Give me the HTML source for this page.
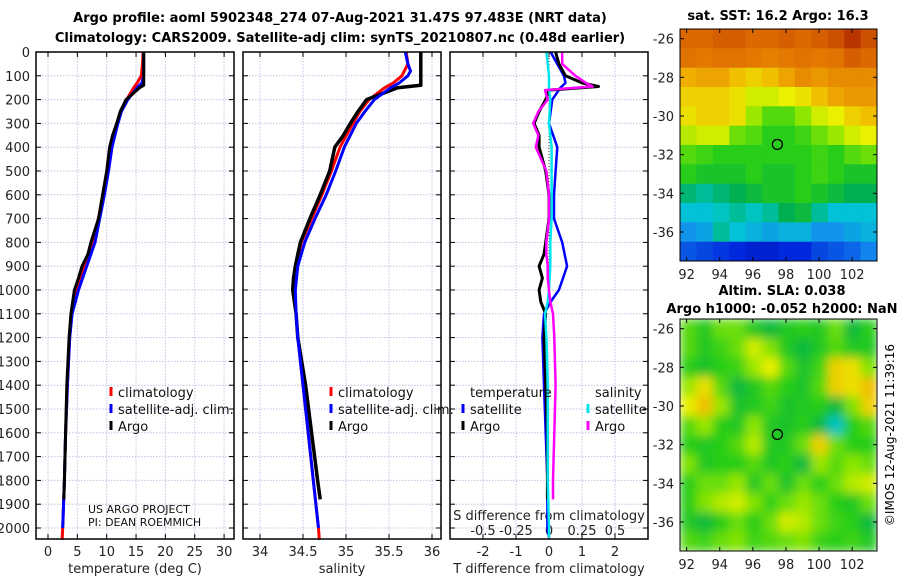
<!DOCTYPE html>
<html><head><meta charset="utf-8">
<style>
html,body{margin:0;padding:0;background:#fff;}
svg{display:block;font-family:"DejaVu Sans","Liberation Sans",sans-serif;}
</style></head>
<body>
<svg id="fig" width="900" height="580" viewBox="0 0 900 580">
<defs><filter id="blur" x="0" y="0" width="1" height="1"><feGaussianBlur stdDeviation="5"/></filter>
<clipPath id="clipsla"><rect x="680" y="319" width="197" height="232"/></clipPath>
<clipPath id="clipsst"><rect x="680" y="29" width="197" height="232"/></clipPath></defs>
<text x="340" y="22" text-anchor="middle" font-weight="bold" font-size="13">Argo profile: aoml 5902348_274 07-Aug-2021 31.47S 97.483E (NRT data)</text>
<text x="340" y="42" text-anchor="middle" font-weight="bold" font-size="13">Climatology: CARS2009. Satellite-adj clim: synTS_20210807.nc (0.48d earlier)</text>
<text x="778" y="20" text-anchor="middle" font-weight="bold" font-size="13">sat. SST: 16.2 Argo: 16.3</text>
<text x="782" y="295" text-anchor="middle" font-weight="bold" font-size="13">Altim. SLA: 0.038</text>
<text x="782" y="313" text-anchor="middle" font-weight="bold" font-size="13">Argo h1000: -0.052 h2000: NaN</text>
<text transform="translate(894,435) rotate(-90)" text-anchor="middle" font-size="12">©IMOS 12-Aug-2021 11:39:16</text>
<g id="g"></g>
</svg>
<script>
// ---------- data ----------
const depthTicks=[0,100,200,300,400,500,600,700,800,900,1000,1100,1200,1300,1400,1500,1600,1700,1800,1900,2000];
const tempTicks=[0,5,10,15,20,25,30];
const salTicks=[34,34.5,35,35.5,36];
const salTickLabels=["34","34.5","35","35.5","36"];
const tdiffTicks=[-2,-1,0,1,2];
const sdiffTicks=[-0.5,-0.25,0,0.25,0.5];
const sdiffTickLabels=["-0.5","-0.25","0","0.25","0.5"];

const argoDepth=[0,140,150,200,250,300,350,400,500,600,700,800,850,900,950,1000,1100,1200,1400,1600,1800,1880];
const argoTemp=[16.3,16.3,15.6,13.3,12.3,11.7,11.0,10.5,10.0,9.3,8.6,7.3,6.8,5.8,5.2,4.5,3.9,3.6,3.2,3.0,2.8,2.7];
const argoSal=[35.87,35.87,35.6,35.24,35.14,35.05,34.97,34.87,34.81,34.70,34.58,34.47,34.44,34.41,34.39,34.38,34.42,34.44,34.53,34.60,34.67,34.70];

const climDepth=[0,50,100,130,150,200,250,300,400,500,600,700,800,900,1000,1100,1200,1400,1600,1800,2000,2050];
const climTemp=[16.2,16.1,15.9,15.2,14.6,13.4,12.4,11.8,10.7,10.1,9.4,8.6,7.6,6.2,4.9,4.0,3.7,3.3,3.0,2.8,2.5,2.4];
const climSal=[35.70,35.72,35.65,35.55,35.45,35.27,35.16,35.08,34.93,34.83,34.72,34.60,34.48,34.42,34.40,34.42,34.44,34.50,34.56,34.62,34.68,34.69];
const satDepth=[0,50,80,100,130,150,200,250,300,400,500,600,700,800,900,1000,1100,1200,1400,1600,1800,2000];
const satTemp=[16.3,16.3,16.3,16.3,16.0,15.2,13.6,12.5,11.9,10.9,10.3,9.6,8.8,8.0,6.6,5.2,4.1,3.7,3.3,3.0,2.8,2.5];
const satSal=[35.69,35.72,35.75,35.72,35.62,35.52,35.33,35.22,35.12,34.98,34.88,34.77,34.64,34.52,34.44,34.41,34.42,34.44,34.50,34.56,34.62,34.68];

const dArgoDepth=[0,50,100,130,145,160,200,250,300,350,400,500,600,700,800,850,900,950,1000,1050,1100,1200,1400,1600,1800,1880];
const dArgoT=[0.2,0.3,0.5,1.0,1.5,0.0,-0.1,-0.3,-0.45,-0.3,-0.3,-0.1,0.0,0.0,-0.1,-0.15,-0.3,-0.2,-0.3,-0.25,-0.1,-0.15,-0.1,-0.05,-0.05,-0.05];
const dArgoS=[0.1,0.1,0.2,0.28,0.33,-0.03,-0.01,-0.08,-0.12,-0.08,-0.1,-0.02,0.0,0.0,-0.02,-0.02,-0.01,-0.01,0.0,0.01,0.03,0.04,0.05,0.04,0.03,0.03];
const dSatDepth=[0,100,130,150,200,300,400,500,600,700,800,900,1000,1050,1100,1200,1400,1600,1800,2000,2040];
const dSatT=[0.05,0.45,0.5,0.35,0.1,0.0,0.25,0.2,0.15,0.15,0.4,0.55,0.3,0.05,-0.15,-0.2,-0.15,-0.1,-0.05,-0.05,0.0];
const dSatS=[-0.02,0.0,0.0,0.0,0.01,0.0,0.02,0.02,0.02,0.02,0.01,0.01,0.0,-0.01,-0.03,-0.02,-0.01,-0.01,-0.01,0.0,0.0];

const lonTicks=[92,94,96,98,100,102];
const latTicks=[-26,-28,-30,-32,-34,-36];
const argoLon=97.483, argoLat=-31.47;
const sstGrid=[
[.82,.82,.84,.84,.82,.82,.84,.82,.84,.87,.92,.87],
[.8,.79,.8,.8,.79,.78,.79,.8,.79,.8,.84,.82],
[.7,.72,.72,.68,.66,.68,.72,.76,.74,.76,.76,.76],
[.66,.66,.66,.64,.6,.6,.62,.64,.68,.72,.74,.74],
[.64,.66,.66,.64,.56,.5,.5,.55,.6,.62,.66,.68],
[.58,.6,.6,.52,.5,.46,.46,.48,.52,.56,.6,.62],
[.5,.48,.46,.46,.46,.46,.46,.46,.48,.46,.5,.52],
[.46,.44,.44,.44,.46,.44,.44,.46,.48,.46,.44,.44],
[.38,.36,.38,.4,.42,.44,.44,.46,.44,.42,.4,.4],
[.32,.32,.34,.36,.34,.36,.4,.42,.36,.32,.32,.32],
[.26,.28,.36,.32,.3,.28,.3,.3,.26,.26,.28,.3],
[.18,.16,.14,.12,.1,.1,.12,.12,.16,.18,.2,.24]];
const slaGrid=[
[.5,.45,.52,.52,.45,.42,.45,.46,.45,.52,.42,.46],
[.5,.45,.48,.52,.6,.54,.45,.42,.45,.5,.45,.45],
[.46,.44,.46,.48,.56,.62,.5,.44,.48,.66,.64,.54],
[.56,.64,.5,.42,.45,.5,.46,.44,.5,.66,.64,.68],
[.62,.68,.56,.44,.45,.48,.44,.45,.46,.42,.54,.66],
[.5,.56,.46,.45,.55,.45,.44,.46,.42,.34,.46,.5],
[.46,.45,.46,.5,.58,.45,.45,.52,.66,.52,.46,.46],
[.54,.45,.46,.46,.5,.45,.46,.42,.56,.5,.55,.52],
[.46,.52,.52,.56,.45,.52,.44,.52,.46,.52,.58,.6],
[.46,.54,.58,.6,.54,.47,.52,.56,.52,.46,.45,.52],
[.45,.42,.46,.52,.46,.52,.6,.58,.52,.48,.46,.42],
[.5,.48,.52,.54,.48,.5,.52,.54,.48,.46,.48,.45]];

// ---------- helpers ----------
const NS="http://www.w3.org/2000/svg";
const G=document.getElementById('g');
function mk(tag,attrs,parent){const e=document.createElementNS(NS,tag);for(const k in attrs)e.setAttribute(k,attrs[k]);(parent||G).appendChild(e);return e;}
const TOP=52,BOT=539;
const yD=d=>TOP+d*0.238;
const xT=v=>48+v*5.87;
const xS=v=>260+(v-34)*86;
const xTd=v=>549+v*33;
const xSd=v=>549+v*132;
const panels=[[36,234],[243,441],[450,648]];

function line(xs,ds,fx,color,w,name){
  const pts=xs.map((v,i)=>fx(v).toFixed(1)+','+yD(ds[i]).toFixed(1)).join(' ');
  const p=mk('polyline',{points:pts,fill:'none',stroke:color,'stroke-width':w,'stroke-linejoin':'round'});
  
  
}

panels.forEach((p,i)=>{
  const [x0,x1]=p;
  depthTicks.forEach(d=>{
    const gl=mk('line',{x1:x0,x2:x1,y1:yD(d),y2:yD(d),stroke:'#c0c4e4','stroke-width':1,'stroke-dasharray':'1.5,1.5'});
    
    
    mk('line',{x1:x0,x2:x0+5,y1:yD(d),y2:yD(d),stroke:'#000'});
    mk('line',{x1:x1-5,x2:x1,y1:yD(d),y2:yD(d),stroke:'#000'});
  });
});
function vgrid(ticks,fx,pi){
  ticks.forEach(t=>{
    const gl=mk('line',{x1:fx(t),x2:fx(t),y1:TOP,y2:BOT,stroke:'#c0c4e4','stroke-width':1,'stroke-dasharray':'1.5,1.5'});
    
    
    mk('line',{x1:fx(t),x2:fx(t),y1:BOT,y2:BOT-5,stroke:'#000'});
    mk('line',{x1:fx(t),x2:fx(t),y1:TOP,y2:TOP+5,stroke:'#000'});
  });
}
vgrid(tempTicks,xT,0);vgrid(salTicks,xS,1);vgrid(tdiffTicks,xTd,2);

depthTicks.forEach(d=>{
  const t=mk('text',{x:30,y:yD(d)+5,'text-anchor':'end','font-size':13,fill:'#222'});
  t.textContent=d;
  
  
});
function xlabels(ticks,labels,fx,y,name){
  ticks.forEach((v,i)=>{
    const t=mk('text',{x:fx(v),y:y,'text-anchor':'middle','font-size':13,fill:'#222'});
    t.textContent=labels?labels[i]:v;
    
    
  });
}
xlabels(tempTicks,null,xT,556,'temperature-tick-label');
xlabels(salTicks,salTickLabels,xS,556,'salinity-tick-label');
xlabels(tdiffTicks,null,xTd,556,'tdiff-tick-label');
xlabels(sdiffTicks,sdiffTickLabels,xSd,535,'sdiff-tick-label');
[[135,'temperature (deg C)','temperature-axis-title'],[342,'salinity','salinity-axis-title'],[549,'T difference from climatology','tdiff-axis-title']].forEach(a=>{
  const t=mk('text',{x:a[0],y:573,'text-anchor':'middle','font-size':13,fill:'#222'});t.textContent=a[1];
  
  
});
{const t=mk('text',{x:549,y:520,'text-anchor':'middle','font-size':13,fill:'#222'});t.textContent='S difference from climatology';

}

mk('line',{x1:549,x2:549,y1:TOP,y2:yD(1000),stroke:'#333','stroke-dasharray':'1,2'});

line(climTemp,climDepth,xT,'#ff0000',3,'temp-climatology-line');
line(satTemp,satDepth,xT,'#0000ff',3,'temp-satellite-line');
line(argoTemp,argoDepth,xT,'#000',3,'temp-argo-line');
line(climSal,climDepth,xS,'#ff0000',3,'sal-climatology-line');
line(argoSal,argoDepth,xS,'#000',3.5,'sal-argo-line');
line(satSal,satDepth,xS,'#0000ff',3,'sal-satellite-line');
line(dSatT,dSatDepth,xTd,'#0000ff',2.5,'tdiff-satellite-line');
line(dArgoT,dArgoDepth,xTd,'#000',3,'tdiff-argo-line');
line(dSatS,dSatDepth,xSd,'#00e5ee',2.5,'sdiff-satellite-line');
line(dArgoS,dArgoDepth,xSd,'#ff00ff',2.5,'sdiff-argo-line');

panels.forEach((p,i)=>{
  const r=mk('rect',{x:p[0],y:TOP,width:p[1]-p[0],height:BOT-TOP,fill:'none',stroke:'#000','stroke-width':1.5});
  
  
});

function legend(x,y,color,label,name){
  mk('line',{x1:x,x2:x,y1:y-10,y2:y-1,stroke:color,'stroke-width':3});
  const t=mk('text',{x:x+7,y:y,'font-size':13,fill:'#111'});t.textContent=label;
  
  
}
legend(111,397,'#ff0000','climatology','legend-climatology');
legend(111,414,'#0000ff','satellite-adj. clim.','legend-satellite-adj');
legend(111,431,'#000','Argo','legend-argo');
legend(331,397,'#ff0000','climatology','legend2-climatology');
legend(331,414,'#0000ff','satellite-adj. clim.','legend2-satellite-adj');
legend(331,431,'#000','Argo','legend2-argo');
{const t=mk('text',{x:470,y:397,'font-size':13,fill:'#111'});t.textContent='temperature';
}
{const t=mk('text',{x:595,y:397,'font-size':13,fill:'#111'});t.textContent='salinity';
}
legend(463,414,'#0000ff','satellite','legend-t-satellite');
legend(463,431,'#000','Argo','legend-t-argo');
legend(588,414,'#00e5ee','satellite','legend-s-satellite');
legend(588,431,'#ff00ff','Argo','legend-s-argo');
{const t=mk('text',{x:88,y:513,'font-size':11,fill:'#111'});t.textContent='US ARGO PROJECT';
}
{const t=mk('text',{x:88,y:526,'font-size':11,fill:'#111'});t.textContent='PI: DEAN ROEMMICH';
}

// ---------- maps ----------
const cstops=[[0,[0,0,140]],[0.12,[0,40,220]],[0.25,[20,140,240]],[0.33,[0,200,210]],[0.4,[0,175,80]],[0.46,[40,205,25]],[0.55,[140,230,0]],[0.62,[235,240,0]],[0.7,[240,175,0]],[0.8,[225,115,0]],[0.9,[195,65,0]],[1,[150,0,0]]];
function cmap(v){for(let i=1;i<cstops.length;i++){if(v<=cstops[i][0]){const a=cstops[i-1],b=cstops[i];const f=(v-a[0])/(b[0]-a[0]);const c=a[1].map((x,k)=>Math.round(x+(b[1][k]-x)*f));return `rgb(${c})`;}}return 'rgb(150,0,0)';}
const LON0=91.6,LON1=103.5,LAT0=-25.5,LAT1=-37.5;
function map(grid,y0,name,blur){
  const x0=680,w=197,h=232;
  const fx=lon=>x0+(lon-LON0)/(LON1-LON0)*w;
  const fy=lat=>y0+(lat-LAT0)/(LAT1-LAT0)*h;
  const grp=mk('g',{'clip-path':`url(#${blur?'clipsla':'clipsst'})`});
  const inner=mk('g',blur?{filter:'url(#blur)'}:{},grp);
  const nr=grid.length,nc=grid[0].length;
  const cw=w/nc,ch=h/nr;
  if(blur) mk('rect',{x:x0,y:y0,width:w,height:h,fill:cmap(0.47)},inner);
  grid.forEach((row,r)=>row.forEach((v,c)=>{
    const cell=mk('rect',{x:(x0+c*cw).toFixed(1),y:(y0+r*ch).toFixed(1),width:(cw+0.6).toFixed(1),height:(ch+0.6).toFixed(1),fill:cmap(v)},inner);
    
    
  }));
  const fr=mk('rect',{x:x0,y:y0,width:w,height:h,fill:'none',stroke:'#000','stroke-width':1});
  
  
  lonTicks.forEach(l=>{
    mk('line',{x1:fx(l),x2:fx(l),y1:y0+h,y2:y0+h-4,stroke:'#000'});
    mk('line',{x1:fx(l),x2:fx(l),y1:y0,y2:y0+4,stroke:'#000'});
    const t=mk('text',{x:fx(l),y:y0+h+18,'text-anchor':'middle','font-size':13,fill:'#222'});t.textContent=l;
    
  });
  latTicks.forEach(l=>{
    mk('line',{x1:x0,x2:x0+4,y1:fy(l),y2:fy(l),stroke:'#000'});
    mk('line',{x1:x0+w,x2:x0+w-4,y1:fy(l),y2:fy(l),stroke:'#000'});
    const t=mk('text',{x:x0-6,y:fy(l)+5,'text-anchor':'end','font-size':13,fill:'#222'});t.textContent=l;
    
  });
  const m=mk('circle',{cx:fx(argoLon),cy:fy(argoLat),r:5,fill:'none',stroke:'#000','stroke-width':1.3});
  
  
}
map(sstGrid,29,'sst-map',false);
map(slaGrid,319,'sla-map',true);
</script>
</body></html>
